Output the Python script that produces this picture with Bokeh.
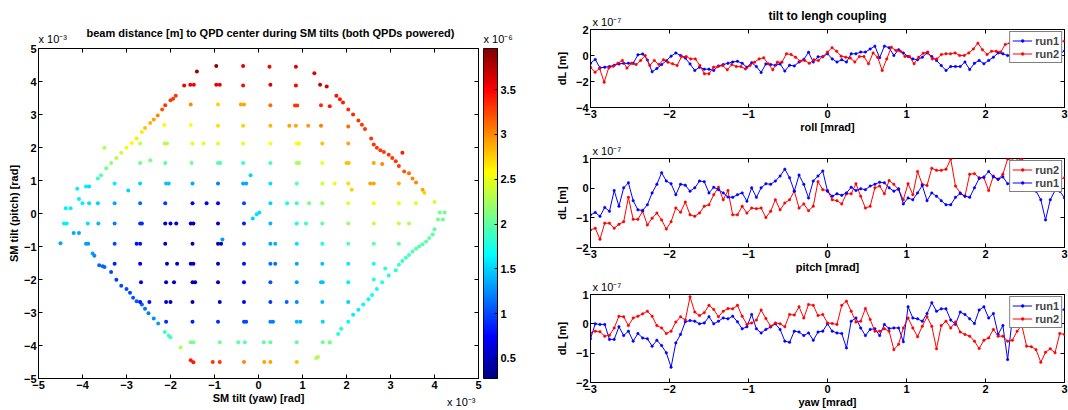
import numpy as np
from bokeh.plotting import figure
from bokeh.models import (ColumnDataSource, LinearColorMapper, FixedTicker, Label,
                          Legend, LegendItem, LinearAxis, Range1d, CustomJSTickFormatter)
from bokeh.layouts import row, column
from bokeh.embed import file_html
from bokeh.resources import INLINE

FONT = "Liberation Sans"

# ---------------- left panel: beam distance on QPD (yaw/pitch in 1e-3 rad, distance in 1e-6 m)
qpd_yaw = [
    -1.40, -0.96, -0.35, 0.25, 0.85, 1.27,
    -1.69, -1.55, -1.47, -0.96, -0.88, -0.35, 0.27, 0.85, 1.40, 1.55,
    -1.88, -1.94, -2.00, -2.12, -2.19, -2.29, -2.38, -2.46, -2.58, -2.65,
    -1.54, -0.92, -0.40, -0.33, 0.27, 0.83, 0.88, 1.42, 1.62,
    1.77, 1.85, 1.92, 2.04, 2.15, 2.27, 2.35, 2.42, 2.56, 2.62, 2.69, 2.77, 2.85, 2.96, 3.04, 3.12, 3.19, 3.31, 3.42, 3.50, 3.58, 3.73, 3.77, 3.27,
    -2.14, -1.54, -0.92, -0.35, 0.27, 0.70, 0.85, 1.13, 1.42, 2.04,
    -2.77, -2.88, -3.00, -3.12, -3.23, -3.35, -3.46, -3.58, -3.65, -3.50,
    -2.69, -2.13, -2.08, -1.50, -1.25, -0.92, -0.35, 0.27, 0.87, 0.92, 1.45, 2.04,
    -2.69, -2.46, -2.12, -1.52, -0.92, -0.87, -0.35, 0.27, 0.87, 0.92, 1.45, 2.00, 2.05, 2.62, 2.81,
    -3.27, -2.69, -2.10, -2.04, -1.50, -0.92, -0.35, -0.28, 0.27, 0.87, 1.45, 1.73, 2.04, 2.12, 2.54, 2.62, 3.19, -0.18, -2.96, -4.12, -3.92, -3.85,
    -4.00, -3.85, -3.65, -3.27, -2.69, -2.12, -1.50, -1.18, -0.92, -0.33, 0.27, 0.65, 0.87, 1.15, 1.45, 2.04, 2.62, 3.19, 3.58, 4.00, -4.08, -4.38, -4.27,
    -4.42, -4.36, -3.88, -3.64, -3.27, -2.69, -2.65, -2.12, -2.00, -1.87, -1.54, -1.48, -0.92, -0.33, 0.27, 0.87, 1.08, 1.45, 2.04, 2.62, 3.19, 3.42, 4.12, 4.23, 4.19, 4.08, -0.13, -0.04, 0.02,
    -4.20, -4.08, -4.50, -3.77, -3.73, -3.62, -3.54, -3.50,
    -3.92, -3.87, -3.27, -2.77, -2.69, -2.12, -1.50, -0.92, -0.85, -0.82, -0.33, 0.27, 0.38, 0.87, 1.45, 2.04, 2.62, 3.19,
    4.00, 3.96, 3.88, 3.81, 3.73, 3.65, 3.58, 3.50, 3.42, 3.35, 3.27, 3.19, 3.12, 2.96, 2.81, 2.69, 2.58, 2.50, 2.38, 2.27, 2.15, 2.04, 1.88, 1.81, 1.62, 1.35, 1.31,
    -3.27, -2.69, -2.08, -1.85, -1.54, -1.48, -0.92, -0.33, 0.27, 0.38, 0.87, 1.45, 2.04, 2.62, 2.88,
    -3.35, -3.23, -3.12, -3.00, -2.92, -2.85, -2.77, -2.65, -2.58, -2.50, -2.38, -2.28, -2.13, -2.04, -2.00, -1.77, -1.54, -1.48,
    -2.67, -2.10, -1.92, -1.50, -1.44, -0.92, -0.33, 0.27, 0.87, 1.42, 1.46, 2.04, 2.62,
    -2.69, -2.48, -2.10, -2.00, -1.50, -0.88, -0.33, 0.27, 0.64, 0.87, 1.45, 2.04,
    -2.10, -1.50, -0.92, -0.33, -0.28, 0.27, 0.33, 0.87, 0.95, 1.46,
    -1.54, -1.48, -0.88, -0.46, -0.31, 0.12, 0.27, 0.87, 1.46, 1.62,
    -1.04, -0.88, -0.33, 0.13, 0.27, 0.87,
]
qpd_pitch = [
    4.30, 4.47, 4.47, 4.45, 4.45, 4.25,
    3.88, 3.90, 3.90, 3.90, 3.90, 3.88, 3.90, 3.88, 3.90, 3.85,
    3.57, 3.48, 3.43, 3.28, 3.15, 2.97, 2.85, 2.74, 2.59, 2.47,
    3.30, 3.30, 3.30, 3.30, 3.28, 3.27, 3.27, 3.28, 3.25,
    3.57, 3.46, 3.36, 3.15, 3.00, 2.82, 2.69, 2.56, 2.27, 2.09, 1.99, 1.92, 1.86, 1.78, 1.68, 1.58, 1.44, 1.27, 1.22, 1.06, 0.94, 0.72, 0.63, 1.84,
    2.68, 2.68, 2.66, 2.66, 2.66, 2.66, 2.66, 2.66, 2.66, 2.64,
    2.27, 2.14, 1.99, 1.84, 1.68, 1.53, 1.37, 1.16, 1.06, 1.99,
    2.12, 2.12, 2.12, 2.12, 2.12, 2.12, 2.12, 2.12, 2.12, 2.12, 2.12, 2.12,
    1.53, 1.61, 1.53, 1.53, 1.53, 1.53, 1.53, 1.53, 1.53, 1.53, 1.53, 1.53, 1.53, 1.53, 1.50,
    0.91, 0.91, 0.91, 0.91, 0.91, 0.91, 0.91, 0.91, 0.91, 0.91, 0.91, 0.91, 0.91, 0.72, 0.91, 0.91, 0.91, 1.16, 0.70, 0.75, 0.82, 0.82,
    0.31, 0.31, 0.31, 0.31, 0.31, 0.31, 0.31, 0.31, 0.31, 0.31, 0.31, 0.31, 0.31, 0.31, 0.31, 0.31, 0.31, 0.31, 0.31, 0.35, 0.44, 0.16, 0.16,
    -0.30, -0.30, -0.30, -0.30, -0.30, -0.30, -0.30, -0.30, -0.30, -0.30, -0.30, -0.30, -0.30, -0.30, -0.30, -0.30, -0.30, -0.30, -0.30, -0.30, -0.30, -0.30, 0.03, 0.03, -0.18, -0.18, -0.15, -0.02, 0.03,
    -0.59, -0.59, -0.90, -1.21, -1.28, -1.57, -1.60, -1.62,
    -0.92, -0.92, -0.92, -0.92, -0.92, -0.92, -0.92, -0.92, -0.92, -0.79, -0.92, -0.92, -0.92, -0.92, -0.92, -0.92, -0.92, -0.92,
    -0.48, -0.64, -0.74, -0.85, -0.93, -1.00, -1.07, -1.15, -1.26, -1.34, -1.44, -1.55, -1.72, -1.88, -2.08, -2.29, -2.47, -2.60, -2.76, -2.92, -3.07, -3.28, -3.49, -3.65, -3.91, -4.35, -4.38,
    -1.52, -1.52, -1.52, -1.52, -1.52, -1.52, -1.52, -1.52, -1.52, -1.52, -1.52, -1.52, -1.52, -1.52, -1.67,
    -1.77, -2.01, -2.19, -2.29, -2.40, -2.55, -2.66, -2.76, -2.89, -3.02, -3.18, -3.33, -3.59, -3.70, -3.75, -4.06, -4.45, -4.51,
    -2.08, -2.08, -2.08, -2.08, -2.08, -2.08, -2.08, -2.08, -2.08, -2.08, -2.08, -2.08, -2.00,
    -2.68, -2.68, -2.68, -2.68, -2.68, -2.68, -2.68, -2.68, -2.68, -2.68, -2.68, -2.68,
    -3.28, -3.28, -3.28, -3.28, -3.28, -3.28, -3.28, -3.28, -3.28, -3.28,
    -3.90, -3.90, -3.90, -3.90, -3.90, -3.90, -3.90, -3.90, -3.90, -3.90,
    -4.50, -4.50, -4.50, -4.50, -4.50, -4.50,
]
qpd_dist = [
    3.85, 3.90, 3.60, 3.50, 3.60, 3.60,
    3.50, 3.55, 3.50, 3.60, 3.55, 3.45, 3.60, 3.50, 3.70, 3.65,
    3.30, 3.30, 3.30, 3.30, 3.20, 3.00, 2.90, 2.85, 2.80, 2.65,
    3.00, 2.75, 2.90, 2.90, 3.10, 3.30, 3.30, 3.35, 3.40,
    3.45, 3.40, 3.40, 3.35, 3.35, 3.30, 3.30, 3.30, 3.30, 3.30, 3.30, 3.30, 3.30, 3.30, 3.30, 3.30, 3.30, 3.20, 3.10, 3.00, 3.00, 2.90, 2.75, 3.40,
    2.60, 2.55, 2.70, 2.75, 2.85, 2.90, 2.90, 2.95, 3.05, 3.10,
    2.65, 2.60, 2.50, 2.40, 2.30, 2.20, 2.05, 1.95, 1.85, 2.30,
    2.35, 2.30, 2.30, 2.45, 2.50, 2.50, 2.50, 2.55, 2.60, 2.60, 2.80, 2.90,
    2.05, 2.10, 2.00, 2.05, 1.95, 1.95, 1.85, 1.90, 2.25, 2.25, 2.50, 2.80, 2.80, 2.90, 3.00,
    1.60, 1.50, 1.45, 1.45, 1.35, 1.20, 1.35, 1.35, 1.55, 1.95, 2.40, 2.50, 2.70, 2.75, 2.90, 2.90, 2.85, 1.50, 1.50, 1.60, 1.60, 1.55,
    1.60, 1.55, 1.50, 1.35, 1.15, 0.95, 0.70, 0.70, 0.75, 1.00, 1.50, 1.70, 1.85, 2.10, 2.20, 2.45, 2.60, 2.50, 2.45, 2.40, 1.60, 1.60, 1.60,
    1.60, 1.60, 1.55, 1.40, 1.20, 0.90, 0.90, 0.60, 0.60, 0.65, 0.50, 0.50, 0.60, 0.85, 1.40, 1.75, 1.85, 2.00, 2.20, 2.35, 2.35, 2.30, 2.05, 2.05, 2.05, 2.05, 1.50, 1.55, 1.55,
    1.35, 1.35, 1.35, 1.30, 1.25, 1.10, 1.10, 1.10,
    1.30, 1.30, 1.00, 0.80, 0.80, 0.55, 0.45, 0.50, 0.50, 1.30, 0.90, 1.35, 1.40, 1.55, 1.75, 1.95, 2.00, 2.00,
    2.00, 2.00, 2.00, 2.00, 1.95, 1.95, 1.95, 1.95, 1.90, 1.90, 1.85, 1.85, 1.80, 1.75, 1.75, 1.70, 1.70, 1.65, 1.65, 1.60, 1.60, 1.65, 1.75, 1.80, 1.95, 2.30, 2.30,
    0.85, 0.60, 0.50, 0.55, 0.50, 0.50, 0.55, 0.80, 1.15, 1.15, 1.35, 1.45, 1.60, 1.70, 1.80,
    1.00, 0.95, 1.00, 1.00, 1.00, 1.05, 1.05, 1.10, 1.15, 1.20, 1.25, 1.30, 1.85, 1.90, 1.90, 2.30, 3.40, 3.40,
    0.70, 0.45, 0.50, 0.45, 0.45, 0.50, 0.75, 1.05, 1.30, 1.45, 1.45, 1.60, 1.80,
    0.80, 0.80, 0.55, 0.55, 0.50, 0.55, 0.75, 0.95, 1.10, 1.25, 1.40, 1.50,
    0.90, 0.85, 0.90, 1.00, 1.00, 1.20, 1.20, 1.40, 1.40, 1.50,
    2.10, 2.10, 2.05, 2.00, 2.00, 2.00, 2.00, 2.00, 2.05, 2.10,
    3.30, 3.30, 3.00, 2.90, 2.90, 2.80,
]
assert len(qpd_yaw) == len(qpd_pitch) == len(qpd_dist), (len(qpd_yaw), len(qpd_pitch), len(qpd_dist))

dist_low, dist_high = 0.276, 3.96
colorbar_ticks = [0.5, 1, 1.5, 2, 2.5, 3, 3.5]
left_ticks = [-5, -4, -3, -2, -1, 0, 1, 2, 3, 4, 5]

# ---------------- right panels: tilt to length coupling (dL in 1e-7 m, tilt in mrad)
roll_run1 = [-0.6, -0.3, -0.95, -0.9, -0.85, -0.75, -0.65, -0.6, -0.6, -0.6, 0.05, 0.12, -0.35, -1.25, -1.0,
             -0.7, -0.4, -0.05, 0.2, 0.0, -0.2, -0.65, -1.15, -0.9, -1.05, -1.05, -1.15, -0.8, -0.7, -0.6,
             -0.5, -0.45, -0.6, -0.9, -0.55, -0.85, -1.3, -0.65, -0.7, -0.75, -0.65, -1.2, -0.75, -0.8, -0.5,
             -0.3, 0.25, -0.5, -0.1, -0.1,
             0.13, -0.26, -0.5, -0.33, -0.5, 0.13, 0.13, 0.26, 0.26, 0.5, 0.72, -0.18, 0.72, 0.6, 0.0, 0.44,
             0.2, -0.08, -0.26, -0.33, -0.13, 0.2, -0.08, -0.38, -0.77, -1.15, -0.85, -0.85, -0.85, -0.5,
             -1.08, -0.6, -0.38, -0.64, -0.38, -0.13, 0.2, 0.13, 0.0, 0.0,
             0.05, 0.1, 0.2, 0.1, 0.0, 0.1, 0.25, 0.3, 0.2, 0.15, 0.35]
roll_run2 = [-0.9, -1.28, -1.0, -2.05, -0.95, -0.82, -0.6, -0.38, -0.97, -0.6, -0.7, -0.38, 0.0, -0.77,
             -0.38, -0.7, -0.33, -0.51, -0.64, -0.77, -0.08, -0.08, -0.26, -0.26, -0.77, -1.41, -1.41, -0.9,
             -0.85, -0.77, -1.1, -0.7, -0.85, -0.85, -1.03, -0.77, -0.51, -0.26, -0.18, -0.64, -1.1, -0.51,
             -0.51, 0.13, 0.08, -0.13, -0.44, -0.38, -0.6, -0.33, -0.38, -0.08, 0.26, 0.6,
             0.33, -0.05, -0.13, -0.2, -0.5, -0.08, -0.08, -0.64, 0.2, -0.13, -1.15, -0.26, 0.64, 0.38, 0.33,
             -0.08, -0.08, -0.64, -0.13, 0.18, 0.26, -0.26, -0.26, 0.08, 0.13, 0.13, 0.2, 0.0, 0.0, 0.2, 0.5,
             0.95, 0.44, 0.08, 0.33, 0.33, 0.26, 0.85, 0.95, 0.72,
             0.9, 1.0, 0.8, 0.9, 1.0, 1.1, 1.0, 1.1, 1.15, 1.1, 1.1]
pitch_run1 = [-0.9, -0.82, -0.95, -0.65, -0.78, -0.08, -0.61, 0.01, 0.18, -0.42, -0.73, -0.75, -0.56, -0.16,
              0.13, 0.52, 0.24, 0.15, -0.22, 0.13, 0.1, -0.1, 0.01, 0.24, 0.22, -0.16, 0.03, -0.05, -0.16,
              -0.3, -0.31, -0.22, -0.16, -0.44, 0.01, -0.31, 0.01, 0.15, 0.13, 0.24, 0.41, 0.64, 0.35, -0.1,
              0.44, 0.13, -0.33, 0.24, 0.41, 0.58,
              -0.1, -0.27, -0.19, -0.24, -0.16, 0.03, -0.08, -0.02, -0.05, 0.07, 0.13, 0.2, 0.18, 0.01, -0.1,
              -0.02, -0.53, -0.33, -0.39, -0.16, 0.09, -0.42, -0.16, -0.27, -0.42, -0.56, -0.56, -0.31, -0.18,
              -0.27, -0.31, 0.01, 0.33, 0.38, 0.56, 0.38, 0.3, 0.38, 0.15,
              0.2, 0.1, 0.25, 0.15, 0.0, -0.1, -0.39, -1.07, -0.39, -0.08, -0.1, -0.33]
pitch_run2 = [-1.41, -1.35, -1.72, -1.18, -1.18, -1.35, -1.22, -1.13, -0.31, -1.05, -1.05, -0.78, -1.24,
              -1.01, -0.84, -1.07, -1.38, -1.13, -0.67, -0.81, -0.47, -0.9, -0.95, -0.84, -0.61, -0.56, -0.22,
              0.03, -0.39, -0.08, -0.9, -0.9, -0.61, -0.84, -0.67, -0.69, -0.67, -0.99, -0.78, -0.39, -0.73,
              -0.5, -0.39, -0.1, -0.67, -0.53, -0.76, -0.61, 0.22, -0.05,
              -0.08, -0.39, -0.42, -0.53, -0.19, -0.19, 0.15, -0.27, -0.67, -0.61, 0.01, 0.07, -0.19, 0.26,
              0.13, -0.05, -0.39, 0.15, -0.22, 0.56, 0.13, 0.09, 0.67, 0.6, 0.6, 0.64, 0.98, 0.07, -0.16,
              -0.27, 0.47, 0.49, 0.35, 0.35, -0.08, 0.41, 0.3, 0.47, 0.98, 0.92, 0.92, 1.0,
              0.8, 0.6, 0.5, 0.45, 0.3, 0.25, 0.4, 0.3, 0.35]
yaw_run1 = [-0.51, 0.0, -0.02, -0.02, -0.53, -0.53, -0.1, -0.4, -0.25, -0.59, -0.33, -0.48, -0.51, -0.76,
            -0.56, -0.74, -0.99, -1.48, -0.65, -0.36, 0.07, 0.11, 0.09, 0.0, 0.03, 0.24, 0.0, 0.09, 0.2, 0.17,
            0.26, 0.07, -0.17, -0.1, 0.32, -0.17, -0.31, -0.19, -0.11, 0.0, -0.19, -0.59, -0.63, -0.25, -0.28,
            -0.4, -0.31, -0.56, -0.28, -0.25, 0.0,
            -0.25, -0.31, -0.33, -0.82, 0.09, 0.2, -0.14, -0.4, -0.19, -0.17, -0.4, -0.02, -0.16, -0.14,
            -0.14, -0.61, 0.58, 0.2, 0.17, 0.09, 0.35, 0.72, 0.43, 0.51, 0.51, 0.13, -0.02, 0.4, 0.32, 0.17,
            0.01, 0.47, 0.58, 0.2, 0.35, -0.36, -0.06, -1.22, 0.2,
            0.3, 0.35, 0.2, 0.4, 0.3, 0.25, 0.5, 0.4, 0.3, 0.45, 0.49]
yaw_run2 = [-0.31, -0.25, -0.27, -0.42, -0.39, -0.14, 0.26, 0.24, -0.06, 0.2, 0.26, 0.34, 0.43, 0.26, -0.06,
            -0.14, -0.33, -0.25, 0.06, 0.24, 0.13, 0.92, 0.4, 0.28, 0.38, 0.63, 0.49, 0.24, 0.43, 0.52, 0.51,
            0.63, 0.26, -0.02, 0.03, 0.13, 0.47, 0.18, -0.08, 0.03, 0.0, -0.1, 0.32, 0.3, 0.58, 0.2, 0.66,
            0.63, 0.28, 0.32, 0.03,
            0.01, -0.02, 0.63, 0.77, 0.43, 0.06, 0.09, 0.52, 0.15, -0.25, -0.25, -0.17, -0.25, -0.88, -0.7,
            -0.14, 0.2, -0.14, -0.44, -0.08, 0.24, -0.08, -0.85, -0.06, 0.09, -0.14, 0.06, -0.28, -0.36,
            -0.42, -0.59, -0.84, -0.56, -0.48, -0.19, -0.42, -0.42, -0.59, -0.56, -0.25,
            -0.05, -0.76, -0.78, -0.88, -1.31, -0.97, -0.85, -0.99, -0.33, -0.36]

tilt_ticks = [-3, -2, -1, 0, 1, 2, 3]
roll_yticks = [-4, -2, 0, 2]
small_yticks = [-2, -1, 0, 1]

LEFT_TITLE = "beam distance [m] to QPD center during SM tilts (both QPDs powered)"
RIGHT_TITLE = "tilt to lengh coupling"
EXP3 = "x 10\u207b\u00b3"
EXP6 = "x 10\u207b\u2076"
EXP7 = "x 10\u207b\u2077"


def jet(n=256):
    cols = []
    for i in range(n):
        t = i / (n - 1)
        r = min(max(1.5 - abs(4 * t - 3), 0.0), 1.0)
        g = min(max(1.5 - abs(4 * t - 2), 0.0), 1.0)
        b = min(max(1.5 - abs(4 * t - 1), 0.0), 1.0)
        cols.append("#%02x%02x%02x" % (round(r * 255), round(g * 255), round(b * 255)))
    return cols


def style_axis(ax, size="11px"):
    ax.major_tick_in = 4
    ax.major_tick_out = 0
    ax.minor_tick_line_color = None
    ax.axis_line_color = "black"
    ax.major_tick_line_color = "black"
    ax.major_label_text_font = FONT
    ax.major_label_text_font_style = "bold"
    ax.major_label_text_font_size = size
    ax.major_label_text_color = "black"
    ax.major_label_standoff = 2
    ax.axis_label_text_font = FONT
    ax.axis_label_text_font_style = "bold"
    ax.axis_label_text_font_size = size
    ax.axis_label_text_color = "black"


def style_axes(p, xticks, yticks, xlabel, ylabel, ylab_standoff):
    p.xaxis.ticker = FixedTicker(ticks=xticks)
    p.yaxis.ticker = FixedTicker(ticks=yticks)
    p.xaxis.axis_label = xlabel
    p.yaxis.axis_label = ylabel
    for ax in list(p.xaxis) + list(p.yaxis):
        style_axis(ax)
    p.xaxis.axis_label_standoff = 0
    p.yaxis.axis_label_standoff = ylab_standoff
    p.xgrid.visible = False
    p.ygrid.visible = False
    p.outline_line_color = "black"
    p.outline_line_alpha = 1.0
    p.background_fill_color = "white"


def box_axes(p, xticks, yticks):
    # tick marks only, on the top and right edges (no labels drawn)
    for ticks, place in ((xticks, "above"), (yticks, "right")):
        ax = LinearAxis(ticker=FixedTicker(ticks=ticks), major_label_text_font_size="1px",
                        major_label_text_color=None, major_tick_in=4, major_tick_out=0,
                        minor_tick_line_color=None, axis_line_color=None, major_label_standoff=0)
        p.add_layout(ax, place)


def text_label(p, x, y, text, xo, yo, align="left", baseline="bottom", size="11px", style="normal"):
    # placed in the top side panel so that it is not clipped to the data frame
    p.add_layout(Label(x=x, y=y, x_offset=xo, y_offset=yo, text=text, text_font=FONT,
                       text_font_size=size, text_font_style=style, text_align=align,
                       text_baseline=baseline, text_color="black"), "above")


# ---------------- left figure
pl = figure(width=483, height=410, x_range=Range1d(-5, 5), y_range=Range1d(-5, 5),
            output_backend="svg", toolbar_location=None, title_location=None,
            min_border_left=38, min_border_right=5, min_border_top=48, min_border_bottom=32)
style_axes(pl, left_ticks, left_ticks, "SM tilt (yaw) [rad]", "SM tilt (pitch) [rad]", 1)
box_axes(pl, left_ticks, left_ticks)
text_label(pl, -5, 5, LEFT_TITLE, 48, 16, baseline="middle", style="bold")
text_label(pl, -5, 5, EXP3, 0, 4)
text_label(pl, 5, -5, EXP3, -3, -17, align="right", baseline="top")

mapper = LinearColorMapper(palette=jet(256), low=dist_low, high=dist_high)
qsrc = ColumnDataSource(dict(x=qpd_yaw, y=qpd_pitch, c=qpd_dist))
pl.scatter("x", "y", source=qsrc, size=4, marker="circle",
           fill_color={"field": "c", "transform": mapper}, line_color=None)

# ---------------- colour bar (its own narrow plot, scaled in 1e-6 m)
pcb = figure(width=44, height=410, x_range=Range1d(0, 1), y_range=Range1d(dist_low, dist_high),
             output_backend="svg", toolbar_location=None, title_location=None,
             x_axis_location=None, y_axis_location="right",
             min_border_left=0, min_border_right=30, min_border_top=48, min_border_bottom=32)
pcb.image(image=[np.linspace(dist_low, dist_high, 256).reshape(256, 1)], x=0, y=dist_low,
          dw=1, dh=dist_high - dist_low, color_mapper=mapper)
pcb.yaxis.ticker = FixedTicker(ticks=colorbar_ticks)
pcb.yaxis.formatter = CustomJSTickFormatter(code="return String(tick);")
for ax in pcb.yaxis:
    style_axis(ax)
    ax.major_tick_in = 3
    ax.major_label_standoff = 3
pcb.xgrid.visible = False
pcb.ygrid.visible = False
pcb.outline_line_color = "black"
pcb.outline_line_alpha = 1.0
text_label(pcb, 0, dist_high, EXP6, 0, 4)


# ---------------- right figures
def right_fig(h, top, bottom, yr, yticks, xlabel, title=None):
    p = figure(width=541, height=h, x_range=Range1d(-3, 3), y_range=Range1d(*yr),
               output_backend="svg", toolbar_location=None, title_location=None,
               min_border_left=63, min_border_right=4, min_border_top=top, min_border_bottom=bottom)
    style_axes(p, tilt_ticks, yticks, xlabel, "dL [m]", 5)
    box_axes(p, tilt_ticks, yticks)
    if title is not None:
        text_label(p, 0, yr[1], title, 0, 14, align="center", baseline="middle",
                   size="12px", style="bold")
    text_label(p, -3, yr[1], EXP7, 2, 2)
    return p


def add_series(p, vals, color):
    xs = np.linspace(-3, 3, len(vals))
    src = ColumnDataSource(dict(x=xs, y=vals))
    l = p.line("x", "y", source=src, line_color=color, line_width=1)
    s = p.scatter("x", "y", source=src, size=2.5, marker="circle", fill_color=color,
                  line_color=color, line_width=0.5)
    return [l, s]


def add_legend(p, items):
    leg = Legend(items=[LegendItem(label=lab, renderers=r) for lab, r in items],
                 location="top_right", border_line_color="black", border_line_width=1,
                 background_fill_color="white", background_fill_alpha=1.0,
                 label_text_font=FONT, label_text_font_style="bold", label_text_font_size="11px",
                 glyph_width=20, glyph_height=7, label_height=13, label_standoff=3,
                 padding=2, spacing=0, margin=2)
    p.add_layout(leg)


BLUE = "#0000ff"
RED = "#ff0000"

p1 = right_fig(138, 29, 31, (-4, 2), roll_yticks, "roll [mrad]", RIGHT_TITLE)
r1 = add_series(p1, roll_run1, BLUE)
r2 = add_series(p1, roll_run2, RED)
add_legend(p1, [("run1", r1), ("run2", r2)])

p2 = right_fig(137, 20, 28, (-2, 1), small_yticks, "pitch [mrad]")
q2 = add_series(p2, pitch_run2, RED)
q1 = add_series(p2, pitch_run1, BLUE)
add_legend(p2, [("run2", q2), ("run1", q1)])

p3 = right_fig(135, 19, 28, (-2, 1), small_yticks, "yaw [mrad]")
y1 = add_series(p3, yaw_run1, BLUE)
y2 = add_series(p3, yaw_run2, RED)
add_legend(p3, [("run1", y1), ("run2", y2)])

layout = row(pl, pcb, column(p1, p2, p3))
open("out.html", "w").write(file_html(layout, INLINE))
